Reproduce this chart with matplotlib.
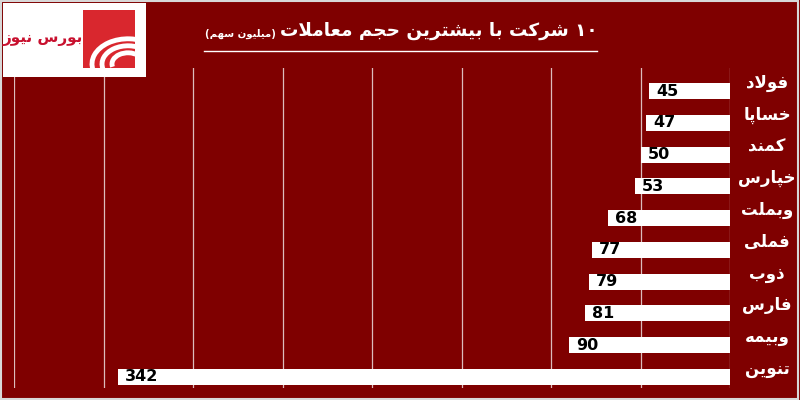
import matplotlib
matplotlib.use('Agg')
import matplotlib.pyplot as plt
import matplotlib.transforms as mtransforms
from matplotlib.patches import Rectangle, Arc

names = ['فولاد', 'خساپا', 'کمند', 'خپارس', 'وبملت', 'فملی', 'ذوب', 'فارس', 'وبیمه', 'تنوین']
values = [45, 47, 50, 53, 68, 77, 79, 81, 90, 342]
title = '۱۰ شرکت با بیشترین حجم معاملات'
subtitle = 'میلیون سهم'
logo_text = 'بورس نیوز'

BG = '#7f0000'

# presentation forms: isolated, final, initial, medial (None = right joining only)
FORMS = {
    'ا': ('\uFE8D', '\uFE8E', None, None),
    'ب': ('\uFE8F', '\uFE90', '\uFE91', '\uFE92'),
    'پ': ('\uFB56', '\uFB57', '\uFB58', '\uFB59'),
    'ت': ('\uFE95', '\uFE96', '\uFE97', '\uFE98'),
    'ج': ('\uFE9D', '\uFE9E', '\uFE9F', '\uFEA0'),
    'ح': ('\uFEA1', '\uFEA2', '\uFEA3', '\uFEA4'),
    'خ': ('\uFEA5', '\uFEA6', '\uFEA7', '\uFEA8'),
    'د': ('\uFEA9', '\uFEAA', None, None),
    'ذ': ('\uFEAB', '\uFEAC', None, None),
    'ر': ('\uFEAD', '\uFEAE', None, None),
    'ز': ('\uFEAF', '\uFEB0', None, None),
    'س': ('\uFEB1', '\uFEB2', '\uFEB3', '\uFEB4'),
    'ش': ('\uFEB5', '\uFEB6', '\uFEB7', '\uFEB8'),
    'ع': ('\uFEC9', '\uFECA', '\uFECB', '\uFECC'),
    'ف': ('\uFED1', '\uFED2', '\uFED3', '\uFED4'),
    'ک': ('\uFB8E', '\uFB8F', '\uFB90', '\uFB91'),
    'ل': ('\uFEDD', '\uFEDE', '\uFEDF', '\uFEE0'),
    'م': ('\uFEE1', '\uFEE2', '\uFEE3', '\uFEE4'),
    'ن': ('\uFEE5', '\uFEE6', '\uFEE7', '\uFEE8'),
    'ه': ('\uFEE9', '\uFEEA', '\uFEEB', '\uFEEC'),
    'و': ('\uFEED', '\uFEEE', None, None),
    'ی': ('\uFBFC', '\uFBFD', '\uFBFE', '\uFBFF'),
}


def shape_word(word):
    if not any(c in FORMS for c in word):
        return word
    # lam + alef -> one ligature
    units = []
    i = 0
    while i < len(word):
        if word[i] == 'ل' and i + 1 < len(word) and word[i + 1] == 'ا':
            units.append('لا')
            i += 2
        else:
            units.append(word[i])
            i += 1

    def joins_fwd(u):
        return u in FORMS and FORMS[u][2] is not None

    out = []
    for k, u in enumerate(units):
        prev = units[k - 1] if k > 0 else None
        nxt = units[k + 1] if k + 1 < len(units) else None
        jp = prev is not None and joins_fwd(prev)
        if u == 'لا':
            out.append('\uFEFC' if jp else '\uFEFB')
            continue
        if u not in FORMS:
            out.append(u)
            continue
        jn = joins_fwd(u) and nxt is not None and (nxt in FORMS or nxt == 'لا')
        iso, fin, ini, med = FORMS[u]
        if jp and jn:
            out.append(med)
        elif jp:
            out.append(fin)
        elif jn:
            out.append(ini)
        else:
            out.append(iso)
    return ''.join(out)[::-1]


def rtl(text):
    return ' '.join(shape_word(w) for w in reversed(text.split()))


fig = plt.figure(figsize=(8, 4), dpi=100, facecolor=BG)
ax = fig.add_axes([14 / 800, 12 / 400, 716 / 800, 320 / 400])
ax.set_facecolor(BG)

pos = list(range(len(names)))
ax.barh(pos, values, height=0.5, color='white', zorder=3)
ax.set_xlim(400, 0)
ax.set_ylim(9.35, -0.73)
ax.set_xticks(range(0, 401, 50))
ax.set_yticks([])
ax.tick_params(axis='x', length=0, labelbottom=False)
ax.grid(axis='x', color='#dcbcbc', linewidth=0.9, zorder=0)
for s in ax.spines.values():
    s.set_visible(False)

for p, v in zip(pos, values):
    ax.annotate(str(v), (v, p), xytext=(5, 0), textcoords='offset points',
                ha='left', va='center', fontsize=11.5, fontweight='bold',
                color='black', zorder=4, family='DejaVu Sans')

trans = mtransforms.blended_transform_factory(fig.transFigure, ax.transData)
for p, n in zip(pos, names):
    ax.text(767 / 800, p - 0.25, rtl(n), transform=trans, ha='center', va='center',
            fontsize=12, fontweight='bold', color='white', family='DejaVu Sans')

# title, fitted to the reference width
renderer = fig.canvas.get_renderer()
t_main = fig.text(598 / 800, 1 - 31 / 400, rtl(title), ha='right', va='center', fontsize=15,
                  fontweight='bold', color='white', family='DejaVu Sans')
w = t_main.get_window_extent(renderer).width
t_main.set_fontsize(15 * 318 / w)
t_sub = fig.text(276 / 800, 1 - 34 / 400, '(' + rtl(subtitle) + ')', ha='right', va='center',
                 fontsize=9.5, fontweight='bold', color='white', family='DejaVu Sans')
w2 = t_sub.get_window_extent(renderer).width
t_sub.set_fontsize(9.5 * 72 / w2)
fig.add_artist(plt.Line2D([204 / 800, 597 / 800], [1 - 51 / 400, 1 - 51 / 400],
                          color='white', linewidth=1))

# logo
fig.add_artist(Rectangle((3 / 800, 1 - 77 / 400), 143 / 800, 74 / 400,
                         transform=fig.transFigure, facecolor='white', edgecolor='none'))
red_sq = Rectangle((83 / 800, 1 - 68 / 400), 52 / 800, 58 / 400,
                   transform=fig.transFigure, facecolor='#d9272e', edgecolor='none')
fig.add_artist(red_sq)
for r in [36, 26, 16]:
    arc = Arc((128 / 800, 1 - 64 / 400), 2 * r / 800, 1.4 * r / 400, theta1=60, theta2=200,
              transform=fig.transFigure, color='white', linewidth=3.5)
    arc.set_clip_path(red_sq)
    fig.add_artist(arc)
fig.text(43 / 800, 1 - 38 / 400, rtl(logo_text), ha='center', va='center', fontsize=11,
         fontweight='bold', color='#c8102e', family='DejaVu Sans')

# outer frame
fig.add_artist(Rectangle((0.001, 0.002), 0.997, 0.995, transform=fig.transFigure,
                         facecolor='none', edgecolor='#d8d8d8', linewidth=1.5))

fig.savefig('out.png', dpi=100, facecolor=BG)
